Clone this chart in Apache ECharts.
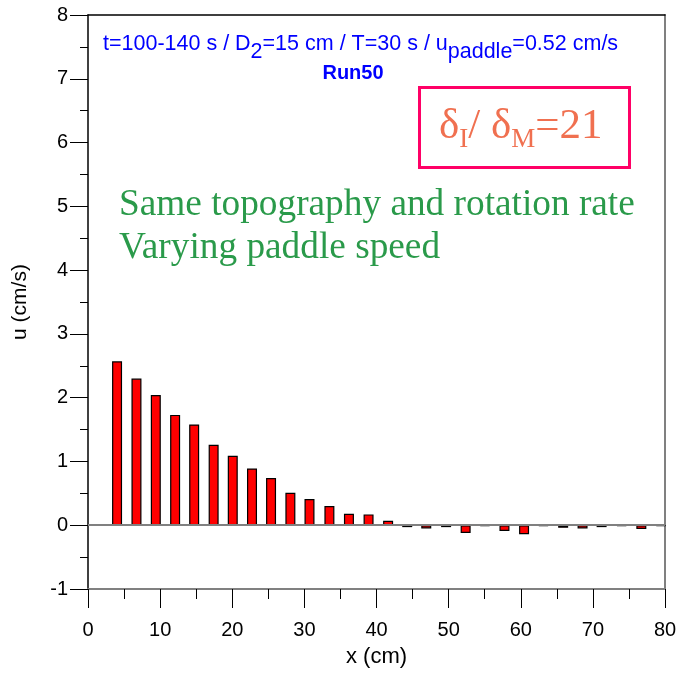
<!DOCTYPE html>
<html>
<head>
<meta charset="utf-8">
<script src="https://cdn.jsdelivr.net/npm/echarts@6/dist/echarts.min.js"></script>
<style>html,body{margin:0;padding:0;background:#fff;}#c{width:681px;height:673px;}</style>
</head>
<body>
<div id="c"></div>
<script>
// Data
const xPositions = [1.34, 4.03, 6.72, 9.40, 12.08, 14.72, 17.42, 20.07, 22.74, 25.38, 28.06, 30.71, 33.47, 36.18, 38.90, 41.61, 44.26, 46.90, 49.65, 52.36, 55.03, 57.74, 60.46, 63.15, 65.88, 68.57, 71.21, 73.99, 76.72, 79.44];
const uValues = [0, 2.57, 2.30, 2.04, 1.73, 1.58, 1.26, 1.09, 0.89, 0.74, 0.51, 0.41, 0.30, 0.18, 0.17, 0.07, -0.03, -0.05, -0.03, -0.12, -0.01, -0.09, -0.14, -0.01, -0.04, -0.05, -0.03, -0.01, -0.06, -0.01];
const xTicks = [0, 10, 20, 30, 40, 50, 60, 70, 80];
const yTicks = [-1, 0, 1, 2, 3, 4, 5, 6, 7, 8];

const seriesData = xPositions.map((x, i) => [x, uValues[i]]);

const chart = echarts.init(document.getElementById('c'), null, {renderer: 'canvas'});
const axisFont = {fontFamily: 'Liberation Sans, Arial, sans-serif', fontSize: 20, color: '#000'};

const option = {
  backgroundColor: '#fff',
  animation: false,
  grid: {left: 88, top: 15, right: 16, bottom: 81, containLabel: false},
  xAxis: [{
    type: 'value', min: xTicks[0], max: xTicks[xTicks.length - 1], interval: 10,
    position: 'bottom',
    name: 'x (cm)', nameLocation: 'middle', nameGap: 57,
    nameTextStyle: Object.assign({}, axisFont, {fontSize: 22}),
    axisLine: {show: true, onZero: false, lineStyle: {color: '#808080', width: 2}},
    axisTick: {show: true, inside: false, length: 19, lineStyle: {color: '#000', width: 1}},
    minorTick: {show: true, splitNumber: 2, length: 10, lineStyle: {color: '#000', width: 1}},
    axisLabel: Object.assign({margin: 31}, axisFont),
    splitLine: {show: false}
  }, {
    type: 'value', min: 0, max: 80, position: 'top',
    axisLine: {show: true, onZero: false, lineStyle: {color: '#000', width: 1.5}},
    axisTick: {show: false}, axisLabel: {show: false}, splitLine: {show: false}
  }],
  yAxis: [{
    type: 'value', min: yTicks[0], max: yTicks[yTicks.length - 1], interval: 1,
    position: 'left',
    name: 'u (cm/s)', nameLocation: 'middle', nameGap: 57, nameRotate: 90,
    nameTextStyle: Object.assign({}, axisFont, {fontSize: 21}),
    axisLine: {show: true, onZero: false, lineStyle: {color: '#000', width: 1.5}},
    axisTick: {show: true, inside: false, length: 18, lineStyle: {color: '#000', width: 1}},
    minorTick: {show: true, splitNumber: 2, length: 8, lineStyle: {color: '#000', width: 1}},
    axisLabel: Object.assign({margin: 20}, axisFont),
    splitLine: {show: false}
  }, {
    type: 'value', min: -1, max: 8, position: 'right',
    axisLine: {show: true, onZero: false, lineStyle: {color: '#808080', width: 2}},
    axisTick: {show: false}, axisLabel: {show: false}, splitLine: {show: false}
  }],
  series: [{
    type: 'bar',
    data: seriesData,
    barWidth: 10,
    itemStyle: {color: '#ff0000', borderColor: '#000', borderWidth: 1.2},
    markLine: {
      silent: true, symbol: 'none', label: {show: false},
      lineStyle: {color: '#808080', width: 2, type: 'solid'},
      data: [{yAxis: 0}]
    },
    z: 3
  }],
  graphic: [
    {
      type: 'text', left: 103, top: 33,
      style: {
        text: '{a|t=100-140 s / D}{s|2}{a|=15 cm / T=30 s / u}{s|paddle}{a|=0.52 cm/s}',
        rich: {
          a: {fontFamily: 'Liberation Sans, Arial, sans-serif', fontSize: 21.5, fill: '#0000ff', lineHeight: 24, verticalAlign: 'top'},
          s: {fontFamily: 'Liberation Sans, Arial, sans-serif', fontSize: 21.5, fill: '#0000ff', lineHeight: 24, padding: [8, 0, 0, 0], verticalAlign: 'top'}
        }
      }
    },
    {
      type: 'text', x: 353, y: 73,
      style: {
        text: 'Run50', fill: '#0000ff', fontFamily: 'Liberation Sans, Arial, sans-serif',
        fontSize: 20, fontWeight: 'bold', textAlign: 'center', textVerticalAlign: 'middle'
      }
    },
    {
      type: 'rect', shape: {x: 419.5, y: 87.5, width: 210, height: 80},
      style: {fill: 'none', stroke: '#ff0066', lineWidth: 3}
    },
    {
      type: 'text', left: 439, top: 105,
      style: {
        text: '{d|δ}{b|I}{d|/ δ}{b|M}{d|=21}',
        rich: {
          d: {fontFamily: 'Liberation Serif, Times New Roman, serif', fontSize: 43, fill: '#f07050', lineHeight: 46, verticalAlign: 'top'},
          b: {fontFamily: 'Liberation Serif, Times New Roman, serif', fontSize: 27, fill: '#f07050', lineHeight: 30, padding: [21, 0, 0, 0], verticalAlign: 'top'}
        }
      }
    },
    {
      type: 'text', left: 119, top: 184,
      style: {
        text: 'Same topography and rotation rate\nVarying paddle speed',
        fill: '#2a9a4a', fontFamily: 'Liberation Serif, Times New Roman, serif',
        fontSize: 37.3, lineHeight: 43
      }
    }
  ]
};
chart.setOption(option);
</script>
</body>
</html>
